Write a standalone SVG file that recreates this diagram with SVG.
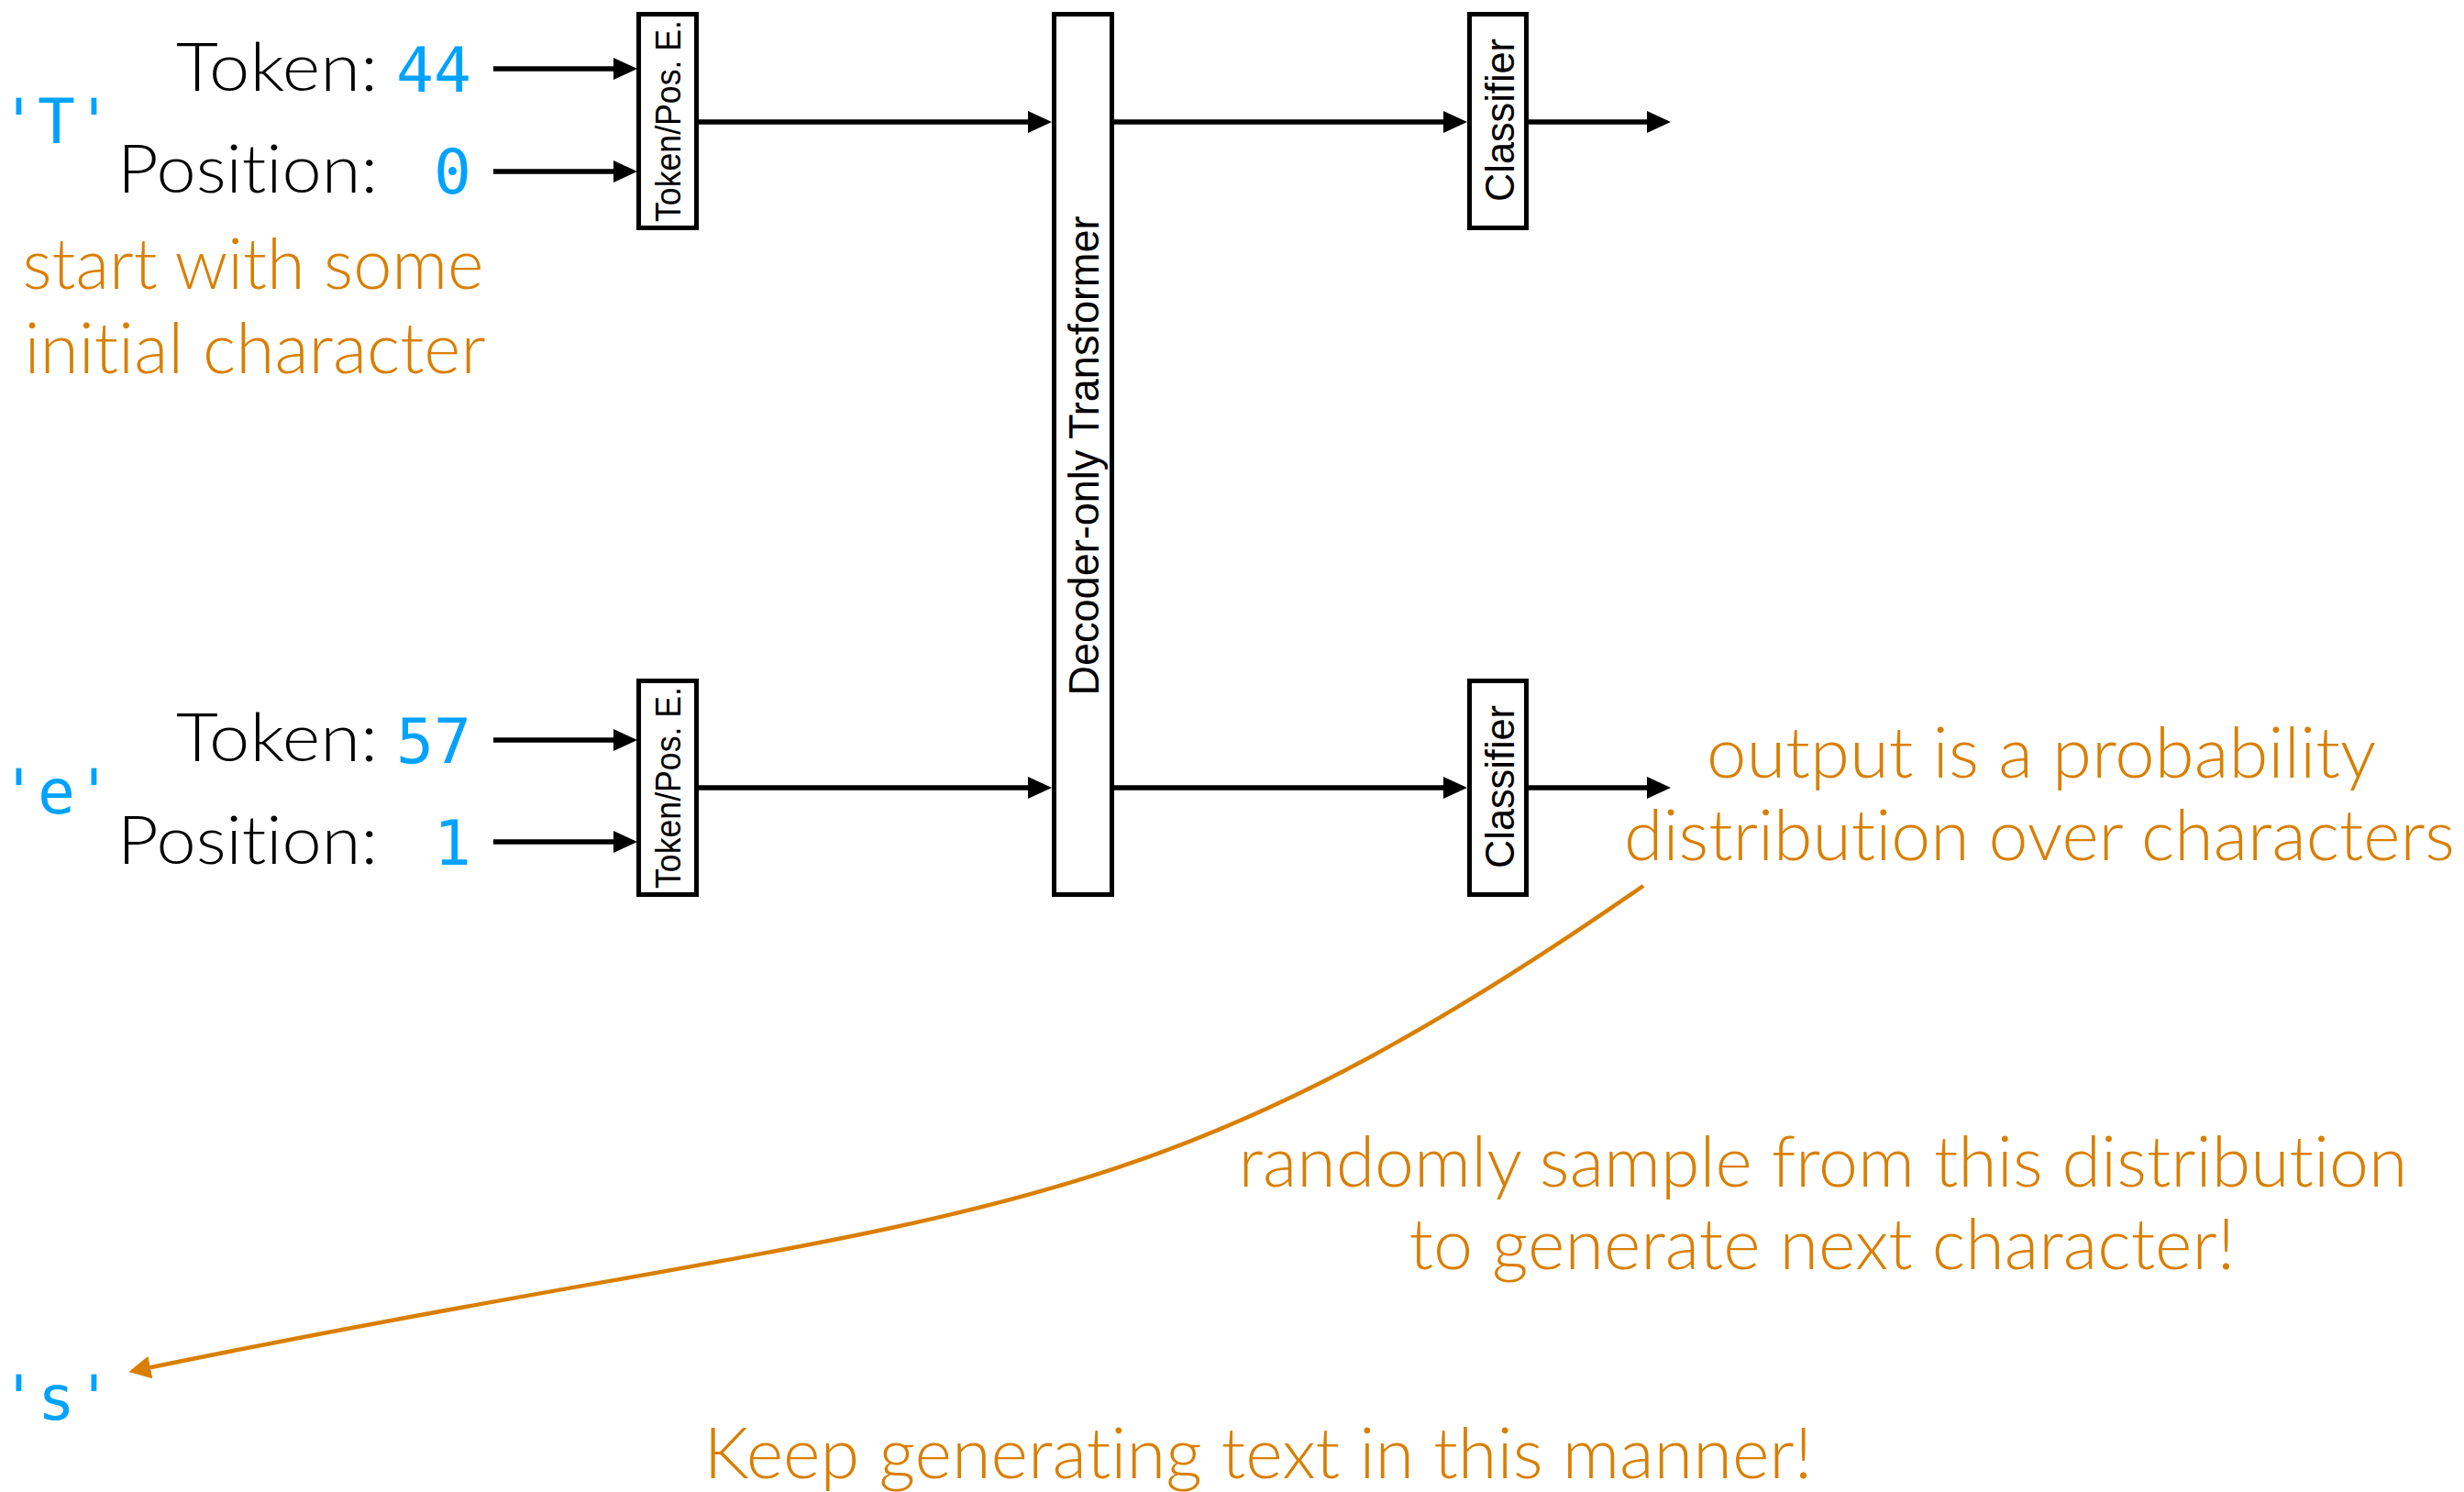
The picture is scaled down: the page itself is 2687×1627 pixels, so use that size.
<svg xmlns="http://www.w3.org/2000/svg" width="2687" height="1627" viewBox="0 0 2687 1627">
  <style>
    .box { fill: #ffffff; stroke: #000000; stroke-width: 5; }
    .boxlabel { font-family: "Liberation Sans", Arial, sans-serif; fill: #000000; text-anchor: middle; }
    .label { font-family: Lato, "Liberation Sans", sans-serif; font-weight: 300; font-size: 72px; fill: #000000; text-anchor: end; font-variant-ligatures: none; }
    .code { font-family: "DejaVu Sans Mono", "Liberation Mono", monospace; font-size: 68px; fill: #00A2FF; }
    .note { font-family: Lato, "Liberation Sans", sans-serif; font-weight: 300; font-size: 76px; fill: #D97F00; text-anchor: middle; font-variant-ligatures: none; }
    .wire { fill: none; stroke: #000000; stroke-width: 5.5; marker-end: url(#arrow-black); }
    .sample { fill: none; stroke: #D97F00; stroke-width: 4.5; marker-end: url(#arrow-orange); }
  </style>
  <defs>
    <marker id="arrow-black" markerUnits="userSpaceOnUse" viewBox="0 0 26 24" markerWidth="26" markerHeight="24" refX="16" refY="12" orient="auto">
      <path d="M0,0 L26,12 L0,24 z" fill="#000000"/>
    </marker>
    <marker id="arrow-orange" markerUnits="userSpaceOnUse" viewBox="0 0 24 25" markerWidth="24" markerHeight="25" refX="4" refY="12.5" orient="auto">
      <path d="M0,0 L24,12.5 L0,25 z" fill="#D97F00"/>
    </marker>
  </defs>

  <rect width="2687" height="1627" fill="#ffffff"/>

  <!-- first step: character 'T' at position 0 -->
  <g id="input-T">
    <text class="code" x="0" y="156">'T'</text>
    <text class="label" x="412" y="99" textLength="220" lengthAdjust="spacingAndGlyphs">Token:</text>
    <text class="code" x="514" y="100" text-anchor="end">44</text>
    <text class="label" x="412" y="210" textLength="284" lengthAdjust="spacingAndGlyphs">Position:</text>
    <text class="code" x="514" y="211" text-anchor="end">0</text>
  </g>
  <g id="note-start">
    <text class="note" x="276" y="315" textLength="503" lengthAdjust="spacingAndGlyphs">start with some</text>
    <text class="note" x="278" y="407" textLength="503" lengthAdjust="spacingAndGlyphs">initial character</text>
  </g>

  <!-- second step: character 'e' at position 1 -->
  <g id="input-e">
    <text class="code" x="0" y="887">'e'</text>
    <text class="label" x="412" y="830" textLength="220" lengthAdjust="spacingAndGlyphs">Token:</text>
    <text class="code" x="514" y="832" text-anchor="end">57</text>
    <text class="label" x="412" y="942" textLength="284" lengthAdjust="spacingAndGlyphs">Position:</text>
    <text class="code" x="514" y="943" text-anchor="end">1</text>
  </g>

  <!-- embedding blocks -->
  <g id="embed-0">
    <rect class="box" x="696.5" y="15.5" width="63" height="233"/>
    <text class="boxlabel" font-size="39" transform="translate(742,132) rotate(-90)" textLength="220" lengthAdjust="spacingAndGlyphs">Token/Pos. E.</text>
  </g>
  <g id="embed-1">
    <rect class="box" x="696.5" y="742.5" width="63" height="233"/>
    <text class="boxlabel" font-size="39" transform="translate(742,859) rotate(-90)" textLength="220" lengthAdjust="spacingAndGlyphs">Token/Pos. E.</text>
  </g>

  <!-- shared transformer stack -->
  <g id="decoder">
    <rect class="box" x="1149.5" y="15.5" width="63" height="960"/>
    <text class="boxlabel" font-size="46" transform="translate(1198,497) rotate(-90)" textLength="523" lengthAdjust="spacingAndGlyphs">Decoder-only Transformer</text>
  </g>

  <!-- classifier heads -->
  <g id="classifier-0">
    <rect class="box" x="1602.5" y="15.5" width="62" height="233"/>
    <text class="boxlabel" font-size="45" transform="translate(1651,131) rotate(-90)" textLength="178" lengthAdjust="spacingAndGlyphs">Classifier</text>
  </g>
  <g id="classifier-1">
    <rect class="box" x="1602.5" y="742.5" width="62" height="233"/>
    <text class="boxlabel" font-size="45" transform="translate(1651,858) rotate(-90)" textLength="178" lengthAdjust="spacingAndGlyphs">Classifier</text>
  </g>

  <!-- annotations -->
  <g id="note-output">
    <text class="note" x="2226" y="848" textLength="730" lengthAdjust="spacingAndGlyphs">output is a probability</text>
    <text class="note" x="2224" y="938" textLength="906" lengthAdjust="spacingAndGlyphs">distribution over characters</text>
  </g>
  <g id="note-sample">
    <text class="note" x="1988" y="1294" textLength="1275" lengthAdjust="spacingAndGlyphs">randomly sample from this distribution</text>
    <text class="note" x="1987" y="1384" textLength="901" lengthAdjust="spacingAndGlyphs">to generate next character!</text>
  </g>
  <g id="output-s">
    <text class="code" x="0" y="1548">'s'</text>
  </g>
  <g id="note-repeat">
    <text class="note" x="1372" y="1612" textLength="1209" lengthAdjust="spacingAndGlyphs">Keep generating text in this manner!</text>
  </g>

  <!-- connectors -->
  <g id="connectors">
    <path class="wire" d="M538,75 H685"/>
    <path class="wire" d="M538,187 H685"/>
    <path class="wire" d="M762,133 H1137"/>
    <path class="wire" d="M1215,133 H1590"/>
    <path class="wire" d="M1667,133 H1812"/>
    <path class="wire" d="M538,807 H685"/>
    <path class="wire" d="M538,918 H685"/>
    <path class="wire" d="M762,859 H1137"/>
    <path class="wire" d="M1215,859 H1590"/>
    <path class="wire" d="M1667,859 H1812"/>
    <path class="sample" d="M1792,966 C1218,1365 1047,1310 160,1492"/>
  </g>
</svg>
